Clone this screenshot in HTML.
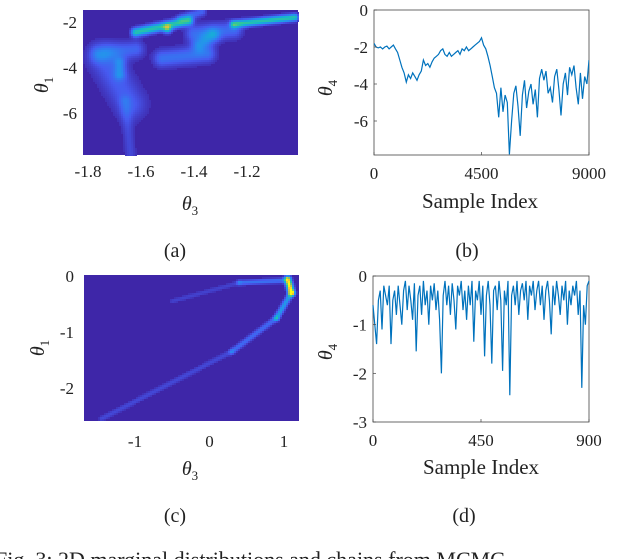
<!DOCTYPE html>
<html><head><meta charset="utf-8"><style>
html,body{margin:0;padding:0;background:#fff;width:640px;height:559px;overflow:hidden}
text{font-family:"Liberation Serif",serif;fill:#222}
</style></head><body>
<svg id="fig" width="640" height="559" viewBox="0 0 640 559" xmlns="http://www.w3.org/2000/svg">
<g id="pa"></g>
<g id="pb"></g>
<g id="pc"></g>
<g id="pd"></g>
<text x="175" y="257" font-size="20" text-anchor="middle">(a)</text>
<text x="467" y="257" font-size="20" text-anchor="middle">(b)</text>
<text x="175" y="522" font-size="20" text-anchor="middle">(c)</text>
<text x="464" y="522" font-size="20" text-anchor="middle">(d)</text>
<text x="-5" y="567" font-size="22">Fig. 3: 2D marginal distributions and chains from MCMC</text>
</svg>
<script>
// ---- panel (b) data ----
const bValues=[-1.8,-2.0,-2.05,-2.0,-2.1,-2.0,-1.95,-2.1,-2.0,-1.9,-2.1,
-2.3,-2.7,-3.1,-3.4,-3.9,
-3.5,-3.7,-3.4,-3.6,-3.8,-3.5,-3.3,
-2.7,-3.0,-2.9,-3.1,-2.8,-2.6,-2.5,-2.4,
-2.2,-2.1,-2.4,-2.5,-2.3,-2.5,-2.4,-2.3,-2.2,-2.4,
-2.1,-2.2,-2.0,-2.2,-2.1,-2.0,-1.9,-1.8,-1.7,-1.5,
-1.9,-2.1,-2.5,-3.0,-3.6,-4.2,
-4.5,-5.8,-4.2,-5.5,-4.6,-5.0,
-7.8,-6.0,-4.5,-4.1,
-5.2,-6.8,-4.6,-3.8,-5.3,-4.4,-4.0,-5.1,-4.3,
-5.8,-3.7,-3.2,-3.8,-3.3,-4.5,-4.2,-5.0,-3.6,-3.2,
-4.3,-5.7,-4.0,-3.4,-4.6,-3.1,-3.5,-3.0,-4.2,-5.1,-3.4,-4.8,-3.6,-4.0,-2.7];
const bXTicks=[0,4500,9000];
const bYTicks=[0,-2,-4,-6];
// ---- panel (d) data ----
const dValues=[-0.6,-1.0,-1.4,-0.5,-0.3,-1.1,-0.2,-0.4,-0.6,-0.2,-1.4,-0.5,-0.3,-0.8,-0.2,-0.6,-1.0,-0.3,-0.1,-0.7,
-0.2,-0.5,-0.9,-0.15,-1.55,-0.4,-0.2,-0.8,-0.1,-0.6,-0.3,-1.0,-0.2,-0.5,-0.15,-0.7,-0.3,-0.9,-2.0,-0.4,
-0.1,-0.6,-0.2,-0.8,-0.15,-0.5,-1.1,-0.2,-0.4,-0.1,-0.7,-0.3,-0.9,-0.2,-0.6,-0.1,-1.35,-0.3,-0.5,-0.1,
-0.8,-0.2,-1.65,-0.4,-0.1,-0.6,-1.8,-0.3,-0.2,-0.7,-0.1,-0.5,-1.95,-0.3,-0.6,-0.1,-2.45,-0.4,-0.2,-0.6,
-0.1,-0.8,-0.3,-0.15,-0.5,-0.1,-0.9,-0.2,-0.4,-0.1,-0.7,-0.3,-0.1,-0.6,-0.2,-0.9,-0.3,-0.1,-0.5,-1.2,
-0.2,-0.6,-0.1,-0.4,-0.8,-0.2,-0.5,-0.1,-1.0,-0.3,-0.6,-0.2,-0.4,-0.1,-0.8,-0.3,-2.3,-0.6,-1.0,-0.2,-0.1];
const dXTicks=[0,450,900];
const dYTicks=[0,-1,-2,-3];
// ---- panel (a) density ridges (theta3, theta1) ----
const aX0=[-1.62,-1.50,-1.45,-1.25,-1.40,-1.38,-1.52,-1.76,-1.74,-1.68,-1.66];
const aY0=[-2.45,-2.3,-1.85,-2.1,-2.5,-3.0,-3.6,-3.4,-3.6,-3.8,-5.5];
const aX1=[-1.42,-1.50,-1.37,-1.02,-1.25,-1.33,-1.35,-1.62,-1.64,-1.68,-1.64];
const aY1=[-1.95,-2.3,-1.55,-1.8,-2.35,-2.6,-3.4,-3.2,-5.6,-4.3,-7.8];
const aAmp=[0.55,0.45,0.18,0.55,0.2,0.25,0.22,0.18,0.16,0.2,0.1];
const aW=[3,3,3,2.5,6,5,6,6,11,4,4];
const aXTicks=[-1.8,-1.6,-1.4,-1.2];
const aYTicks=[-2,-4,-6];
// ---- panel (c) density ridges ----
const cX0=[1.05,1.1,0.9,0.3,1.0,0.4];
const cY0=[-0.06,-0.3,-0.75,-1.35,-0.08,-0.12];
const cX1=[1.1,0.9,0.3,-1.45,0.4,-0.5];
const cY1=[-0.3,-0.75,-1.35,-2.55,-0.12,-0.45];
const cAmp=[1.0,0.35,0.2,0.1,0.22,0.08];
const cW=[2.2,2,2,2,1.8,1.8];
const cXTicks=[-1,0,1];
const cYTicks=[0,-1,-2];

const NS="http://www.w3.org/2000/svg";
function mk(tag,attrs,parent){const e=document.createElementNS(NS,tag);for(const k in attrs)e.setAttribute(k,attrs[k]);parent.appendChild(e);return e;}
function lin(d0,d1,r0,r1){return v=>r0+(v-d0)/(d1-d0)*(r1-r0);}
const stops=[[0,62,38,168],[0.15,70,90,240],[0.3,40,140,240],[0.45,20,180,210],[0.6,50,200,150],[0.75,160,200,80],[0.9,250,190,50],[1,249,251,14]];
function parula(t){t=Math.max(0,Math.min(1,t));for(let i=1;i<stops.length;i++){if(t<=stops[i][0]){const a=stops[i-1],b=stops[i],f=(t-a[0])/(b[0]-a[0]);return `rgb(${Math.round(a[1]+f*(b[1]-a[1]))},${Math.round(a[2]+f*(b[2]-a[2]))},${Math.round(a[3]+f*(b[3]-a[3]))})`;}}return "rgb(249,251,14)";}
function segDist(px,py,x0,y0,x1,y1){const dx=x1-x0,dy=y1-y0;let t=((px-x0)*dx+(py-y0)*dy)/(dx*dx+dy*dy||1);t=Math.max(0,Math.min(1,t));const qx=x0+t*dx,qy=y0+t*dy;return Math.hypot(px-qx,py-qy);}

function axesText(g,o){
  o.xt.forEach(v=>{const x=o.sx(v);
    const t=mk('text',{x:x,y:o.b+22,'font-size':17,'text-anchor':'middle'},g);t.textContent=String(v);
    
    
    if(o.tick){const l=mk('line',{x1:x,x2:x,y1:o.b-2,y2:o.b-5,stroke:'#444','stroke-width':0.7},g);
      
      }
  });
  o.yt.forEach(v=>{const y=o.sy(v);
    const t=mk('text',{x:o.l-6,y:y+6,'font-size':17,'text-anchor':'end'},g);t.textContent=String(v);
    
    
    if(o.tick){const l=mk('line',{x1:o.l,x2:o.l+3,y1:y,y2:y,stroke:'#444','stroke-width':0.7},g);
      
      }
  });
}
function heat(g,L,T,R,B,sx,sy,X0,Y0,X1,Y1,A,W){
  mk('rect',{x:L,y:T,width:R-L,height:B-T,fill:'rgb(62,38,168)'},g);
  const c=2;
  for(let py=T;py<B;py+=c)for(let px=L;px<R;px+=c){
    let v=0;
    for(let i=0;i<A.length;i++){const d=segDist(px+c/2,py+c/2,sx(X0[i]),sy(Y0[i]),sx(X1[i]),sy(Y1[i]));v+=A[i]*Math.exp(-d*d/(2*W[i]*W[i]));}
    if(v>0.03){const r=mk('rect',{x:px,y:py,width:c,height:c,fill:parula(v)},g);
      
      }
  }
}
function trace(g,vals,xmax,sx,sy){
  const n=vals.length;let d='';
  vals.forEach((v,i)=>{d+=(i?'L':'M')+sx(i*xmax/(n-1)).toFixed(1)+' '+sy(v).toFixed(1);});
  const p=mk('path',{d:d,fill:'none',stroke:'#0072bd','stroke-width':1.2},g);
  
  
}
function label(g,x,y,txt,sub,rot,name){
  const t=mk('text',{x:x,y:y,'font-size':20,'font-style':'italic','text-anchor':'middle'},g);
  if(rot)t.setAttribute('transform',`rotate(-90 ${x} ${y})`);
  t.textContent=txt;
  if(sub){const s=mk('tspan',{'font-size':13,'font-style':'normal',dy:5},t);s.textContent=sub;}
  
  
}
// panel a
(function(){const g=document.getElementById('pa');const L=83,T=10,R=298,B=155;
  const sx=lin(-1.8,-1.2,88,247),sy=lin(-2,-6,22,113);
  heat(g,L,T,R,B,sx,sy,aX0,aY0,aX1,aY1,aAmp,aW);
  axesText(g,{sx,sy,xt:aXTicks,yt:aYTicks,l:L,b:B});
  label(g,48,85,'θ','1',true,'y-axis-title');
  label(g,190,210,'θ','3',false,'x-axis-title');})();
// panel c
(function(){const g=document.getElementById('pc');const L=84,T=275,R=299,B=421;
  const sx=lin(-1,1,135,284),sy=lin(0,-2,276,388);
  heat(g,L,T,R,B,sx,sy,cX0,cY0,cX1,cY1,cAmp,cW);
  axesText(g,{sx,sy,xt:cXTicks,yt:cYTicks,l:L-4,b:B+4});
  label(g,44,348,'θ','1',true,'y-axis-title');
  label(g,190,475,'θ','3',false,'x-axis-title');})();
// panel b
(function(){const g=document.getElementById('pb');const L=374,T=10,R=589,B=155;
  const sx=lin(0,9000,L,R),sy=lin(0,-2,10,47);
  mk('rect',{x:L,y:T,width:R-L,height:B-T,fill:'#fff',stroke:'#444','stroke-width':0.8},g);
  const cp=mk('clipPath',{id:'cb'},g);mk('rect',{x:L,y:T,width:R-L,height:B-T},cp);
  const gg=mk('g',{'clip-path':'url(#cb)'},g);
  trace(gg,bValues,9000,sx,sy);
  axesText(g,{sx,sy,xt:bXTicks,yt:bYTicks,l:L,b:B+2,tick:true});
  label(g,332,88,'θ','4',true,'y-axis-title');
  const t=mk('text',{x:480,y:208,'font-size':21,'text-anchor':'middle'},g);t.textContent='Sample Index';
  
  })();
// panel d
(function(){const g=document.getElementById('pd');const L=373,T=276,R=589,B=422;
  const sx=lin(0,900,L,R),sy=lin(0,-3,T,B);
  mk('rect',{x:L,y:T,width:R-L,height:B-T,fill:'#fff',stroke:'#444','stroke-width':0.8},g);
  trace(g,dValues,900,sx,sy);
  axesText(g,{sx,sy,xt:dXTicks,yt:dYTicks,l:L,b:B+2,tick:true});
  label(g,332,352,'θ','4',true,'y-axis-title');
  const t=mk('text',{x:481,y:474,'font-size':21,'text-anchor':'middle'},g);t.textContent='Sample Index';
  
  })();
</script>
</body></html>
